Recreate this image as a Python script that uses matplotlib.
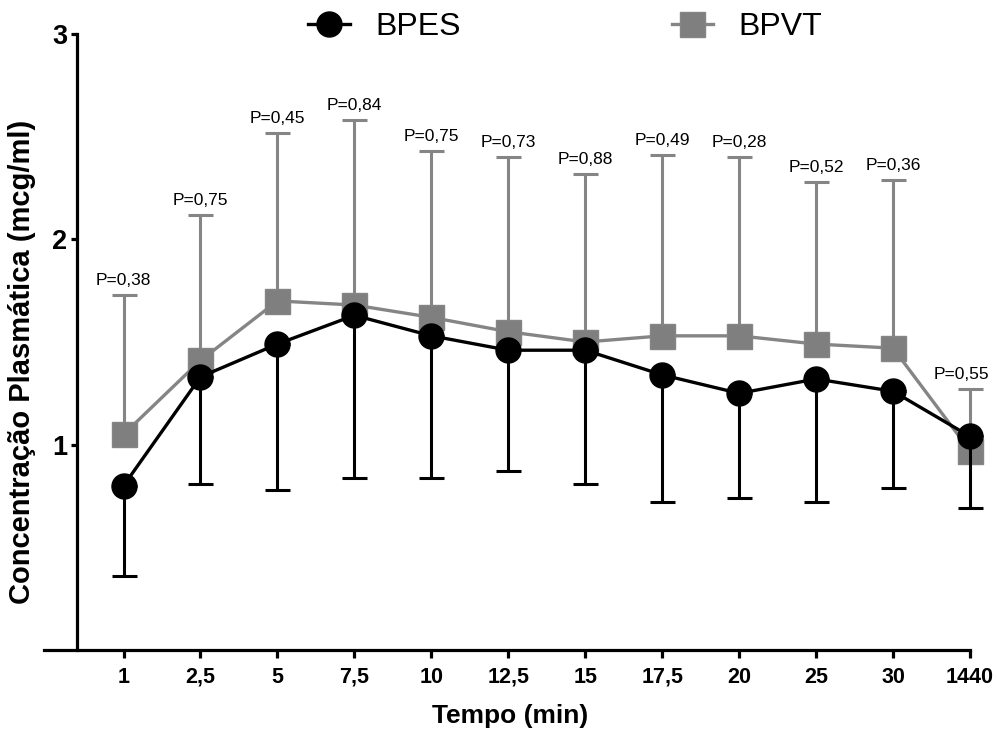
import matplotlib
matplotlib.use("Agg")
import matplotlib.pyplot as plt
from matplotlib.lines import Line2D
import numpy as np

plt.rcParams['font.family'] = ['Liberation Sans', 'DejaVu Sans']

# data
tempo = ["1", "2,5", "5", "7,5", "10", "12,5", "15", "17,5", "20", "25", "30", "1440"]
bpes = [0.80, 1.33, 1.49, 1.63, 1.53, 1.46, 1.46, 1.34, 1.25, 1.32, 1.26, 1.04]
bpes_low = [0.36, 0.81, 0.78, 0.84, 0.84, 0.87, 0.81, 0.72, 0.74, 0.72, 0.79, 0.69]
bpvt = [1.05, 1.41, 1.70, 1.68, 1.62, 1.55, 1.50, 1.53, 1.53, 1.49, 1.47, 0.97]
bpvt_high = [1.73, 2.12, 2.52, 2.58, 2.43, 2.40, 2.32, 2.41, 2.40, 2.28, 2.29, 1.27]
p_vals = ["P=0,38", "P=0,75", "P=0,45", "P=0,84", "P=0,75", "P=0,73", "P=0,88",
          "P=0,49", "P=0,28", "P=0,52", "P=0,36", "P=0,55"]

gray = '#858585'
x = np.arange(len(tempo))

fig = plt.figure(figsize=(9.97, 7.31), dpi=100)
ax = fig.add_axes([0.0444, 0.1108, 0.9517, 0.8427])

# spine stuff first - moving the spine resets the y ticks
ax.spines['top'].set_visible(False)
ax.spines['right'].set_visible(False)
ax.spines['left'].set_position(('data', -0.605))
ax.spines['left'].set_linewidth(2.3)
ax.spines['bottom'].set_linewidth(2.3)
ax.spines['bottom'].set_bounds(-1.03, 11)

# BPVT first so black sits on top
ax.errorbar(x, bpvt, yerr=[np.zeros(len(x)), np.array(bpvt_high) - np.array(bpvt)],
            color=gray, ecolor=gray, elinewidth=2.2, capsize=9, capthick=2.2,
            lw=2.4, marker='s', ms=18, mec=gray, mfc='#7f7f7f', zorder=2)
ax.errorbar(x, bpes, yerr=[np.array(bpes) - np.array(bpes_low), np.zeros(len(x))],
            color='black', ecolor='black', elinewidth=2.2, capsize=9, capthick=2.2,
            lw=2.4, marker='o', ms=18, mec='black', mfc='black', zorder=3)

# p-values above the BPVT caps
for i in range(len(x)):
    dx = -6 if i == len(x) - 1 else 0
    ax.annotate(p_vals[i], (x[i], bpvt_high[i]), xytext=(dx, 5), textcoords='offset points',
                ha='center', va='bottom', fontsize=12.5)

ax.set_xlim(-1.03, 11.3)
ax.set_ylim(0, 3)
ax.set_xticks(x)
ax.set_xticklabels(tempo, fontsize=15.5, fontweight='bold')
ax.set_yticks([1, 2, 3])
ax.set_yticklabels(["1", "2", "3"], fontsize=19.5, fontweight='bold')
ax.tick_params(axis='x', length=6, width=2.3, pad=6)
ax.tick_params(axis='y', length=4, width=2.3, pad=3)

ax.set_xlabel("Tempo (min)", fontsize=19, fontweight='bold', labelpad=12, x=0.491)
fig.text(0.022, 0.5055, "Concentração Plasmática (mcg/ml)", rotation=90, ha='center', va='center',
         fontsize=21, fontweight='bold')

handles = [Line2D([], [], color='black', lw=2.4, marker='o', ms=18),
           Line2D([], [], color=gray, lw=2.4, marker='s', ms=18, mfc='#7f7f7f', mec=gray)]
fig.legend(handles, ["BPES", "BPVT"], loc='center', bbox_to_anchor=(0.567, 0.963), ncol=2,
           frameon=False, fontsize=23, handlelength=1.3, handletextpad=0.8, columnspacing=6.6)

plt.savefig("out.png", dpi=100)
